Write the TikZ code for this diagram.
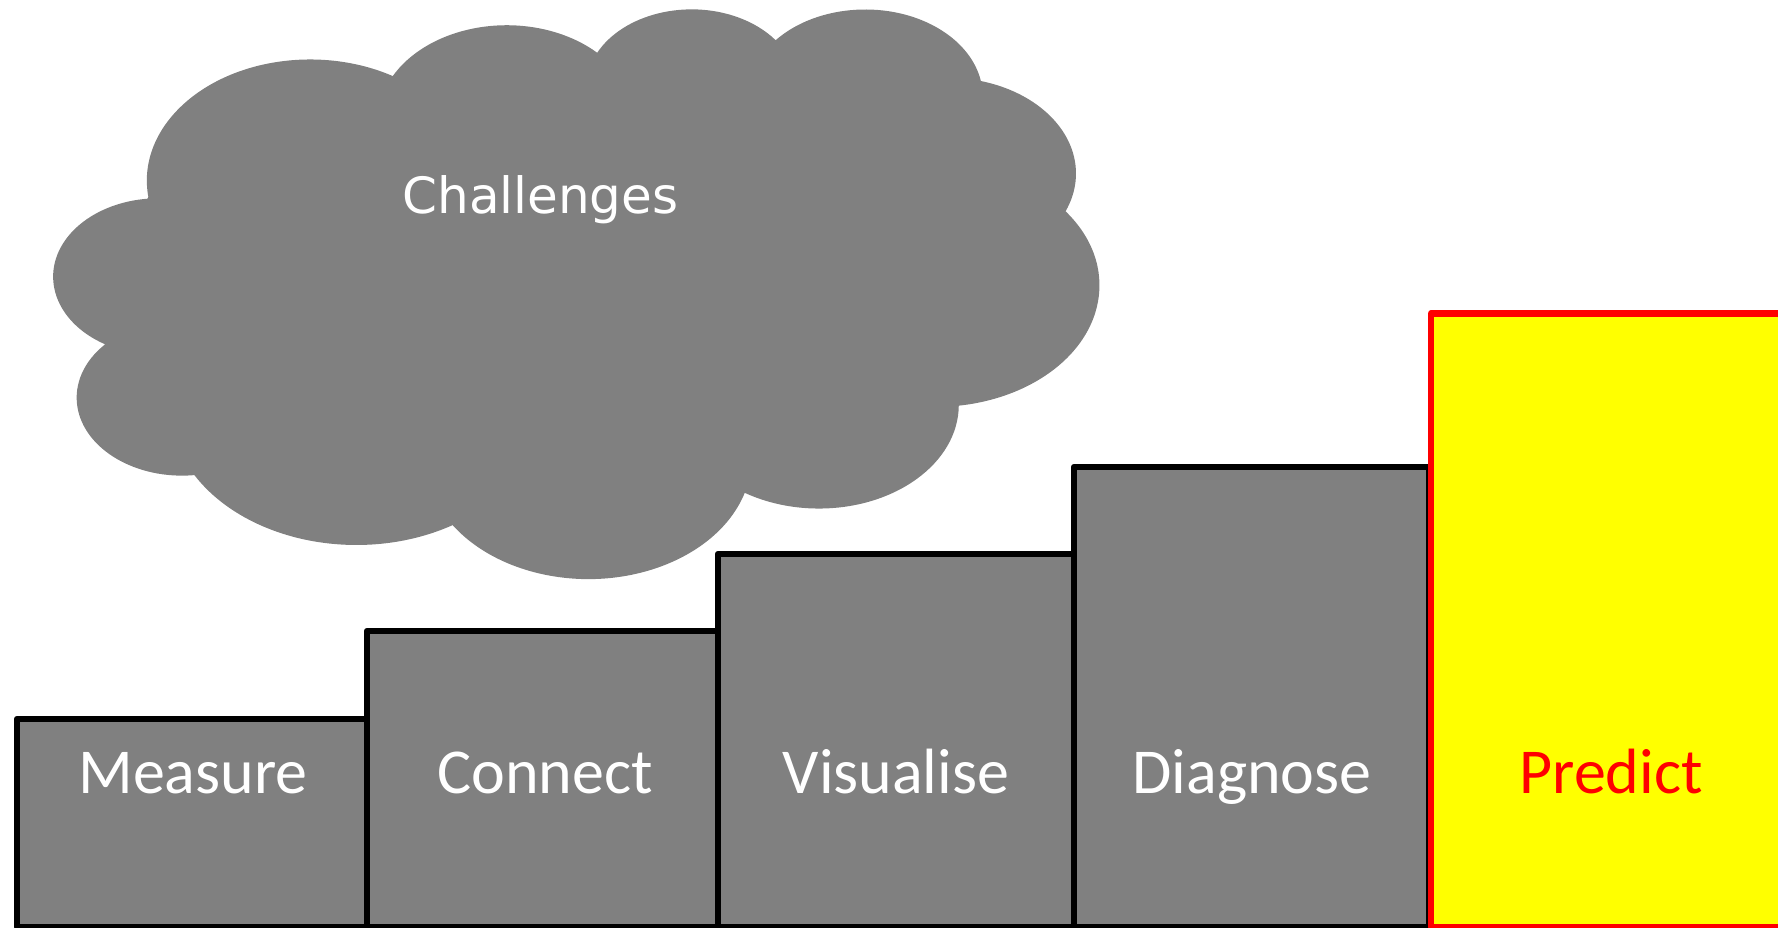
\documentclass[tikz,border=0pt]{standalone}
\usepackage{fontspec}
\setmainfont{Carlito}
\newfontfamily\cloudfont{DejaVu Sans}
\definecolor{stepgray}{HTML}{808080}
\definecolor{predred}{HTML}{FF0000}
\definecolor{predyellow}{HTML}{FFFF00}

% Converts a "visual" ellipse angle (ray from centre) into the parametric
% angle used by TikZ arcs, and stores start angle and sweep under a letter.
\newcommand\cloudang[5]{%
  \pgfmathsetmacro\cloudtmpA{atan2(#2*sin(#4),#3*cos(#4))}%
  \pgfmathsetmacro\cloudtmpB{atan2(#2*sin(#4+#5),#3*cos(#4+#5))}%
  \pgfmathsetmacro\cloudtmpD{mod(\cloudtmpB-\cloudtmpA+720,360)}%
  \expandafter\xdef\csname cst#1\endcsname{\cloudtmpA}%
  \expandafter\xdef\csname cdl#1\endcsname{\cloudtmpD}%
}

\tikzset{
  stepbox/.style={draw=black, fill=stepgray, line width=6.5pt, line join=round,
    rectangle, outer sep=0pt, inner sep=0pt, anchor=north west},
  predbox/.style={stepbox, draw=predred, fill=predyellow},
  steplabel/.style={text=white, anchor=base, inner sep=0pt,
    font=\fontsize{64}{76}\selectfont},
  predlabel/.style={steplabel, text=predred},
  cloudlabel/.style={text=white, anchor=base, inner sep=0pt,
    font=\cloudfont\fontsize{50}{60}\selectfont},
}

\begin{document}
\begin{tikzpicture}[x=1pt,y=-1pt]
\useasboundingbox (0,0) rectangle (1778,927);

% cloud outline: eleven elliptical bumps, path space 43.2 x 43.2
\cloudang{A}{6.753}{9.190}{-190.4875}{123.7805}
\cloudang{B}{5.333}{7.267}{-144.1024}{89.9452}
\cloudang{C}{4.365}{5.945}{-145.8079}{99.7230}
\cloudang{D}{4.857}{6.595}{-130.9861}{117.2417}
\cloudang{E}{5.333}{7.273}{-78.7089}{109.0269}
\cloudang{F}{6.775}{9.220}{-46.2673}{130.2690}
\cloudang{G}{5.785}{7.867}{0.6250}{114.0333}
\cloudang{H}{6.752}{9.215}{22.4516}{115.1726}
\cloudang{I}{7.720}{10.543}{66.2426}{75.7110}
\cloudang{J}{4.360}{5.918}{-274.9421}{146.7356}
\cloudang{K}{4.345}{5.945}{-246.8285}{152.5189}

\begin{scope}[shift={(54,7.5)}, x=24.190pt, y=-13.183pt]
  \fill[stepgray] (3.9,14.37)
    arc[start angle=\cstA, delta angle=\cdlA, x radius=6.753, y radius=9.190]
    arc[start angle=\cstB, delta angle=\cdlB, x radius=5.333, y radius=7.267]
    arc[start angle=\cstC, delta angle=\cdlC, x radius=4.365, y radius=5.945]
    arc[start angle=\cstD, delta angle=\cdlD, x radius=4.857, y radius=6.595]
    arc[start angle=\cstE, delta angle=\cdlE, x radius=5.333, y radius=7.273]
    arc[start angle=\cstF, delta angle=\cdlF, x radius=6.775, y radius=9.220]
    arc[start angle=\cstG, delta angle=\cdlG, x radius=5.785, y radius=7.867]
    arc[start angle=\cstH, delta angle=\cdlH, x radius=6.752, y radius=9.215]
    arc[start angle=\cstI, delta angle=\cdlI, x radius=7.720, y radius=10.543]
    arc[start angle=\cstJ, delta angle=\cdlJ, x radius=4.360, y radius=5.918]
    arc[start angle=\cstK, delta angle=\cdlK, x radius=4.345, y radius=5.945]
    -- cycle;
\end{scope}
\node[cloudlabel] (challenges) at (540.5,213) {Challenges};

% staircase of steps
\node[stepbox, minimum width=350pt, minimum height=208pt] (measure) at (17,719) {};
\node[stepbox, minimum width=351pt, minimum height=296pt] (connect) at (367,631) {};
\node[stepbox, minimum width=356pt, minimum height=373pt] (visualise) at (718,554) {};
\node[stepbox, minimum width=355pt, minimum height=460pt] (diagnose) at (1074,467) {};
\node[predbox, minimum width=364pt, minimum height=613.5pt] (predict) at (1431,313.5) {};

\node[steplabel] (measurelab) at (193,793) {Measure};
\node[steplabel] (connectlab) at (545,793) {Connect};
\node[steplabel] (visualiselab) at (896,793) {Visualise};
\node[steplabel] (diagnoselab) at (1252,793) {Diagnose};
\node[predlabel] (predictlab) at (1611,793) {Predict};
\end{tikzpicture}
\end{document}
